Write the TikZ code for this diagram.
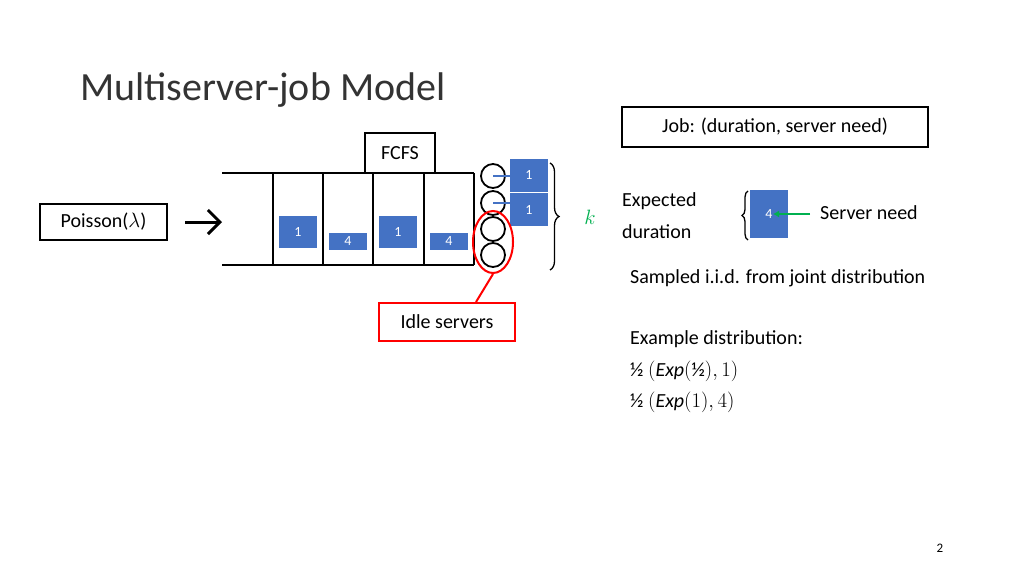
\documentclass[tikz,border=0pt]{standalone}
\usepackage{fontspec}
\setmainfont{Carlito}
\usetikzlibrary{decorations.pathreplacing,arrows.meta,shapes.geometric}
\begin{document}
\begin{tikzpicture}[x=1pt,y=-1pt,
  bx/.style={draw=black,line width=1.8pt,inner sep=0pt},
  job/.style={fill=jobblue,draw=none,text=white,font=\fontsize{14}{14}\selectfont,inner sep=0pt},
  srv/.style={draw=black,line width=1.8pt,circle,minimum size=24pt,inner sep=0pt},
  txt/.style={font=\fontsize{20}{22}\selectfont,anchor=west,inner sep=0pt}]
\definecolor{jobblue}{RGB}{68,114,196}
\definecolor{kgreen}{RGB}{0,176,80}
\useasboundingbox (0,0) rectangle (1024,576);
\fill[white] (0,0) rectangle (1024,576);
\node[anchor=base west,inner sep=0pt,font=\fontsize{40}{40}\selectfont,text=black!80] (title) at (80,100) {Multiserver-job Model};
% job box
\node[bx,minimum width=306pt,minimum height=40pt,font=\fontsize{20}{22}\selectfont] (jobbox) at (775,127) {Job: (duration, server need)};
% queue
\node[bx,minimum width=70pt,minimum height=40pt,font=\fontsize{20}{22}\selectfont] (fcfs) at (400,153) {FCFS};
\coordinate (qtl) at (222,173); \coordinate (qtr) at (474,173);
\coordinate (qbl) at (222,265); \coordinate (qbr) at (474,265);
\draw[line width=1.8pt] (qtl) -- (qtr) (qbl) -- (qbr);
\foreach \x in {273,323,373,424,474} \draw[line width=1.8pt] (\x,173) -- (\x,265);
\node[job,minimum width=38pt,minimum height=32pt] (j1) at (298,232) {1};
\node[job,minimum width=38pt,minimum height=17pt] (j2) at (348,241) {4};
\node[job,minimum width=38pt,minimum height=32pt] (j3) at (398,232) {1};
\node[job,minimum width=38pt,minimum height=17pt] (j4) at (449,241) {4};
% servers
\node[srv] (s1) at (493,176) {};
\node[srv] (s2) at (493,203) {};
\node[srv] (s3) at (493,229) {};
\node[srv] (s4) at (493,255) {};
\node[job,minimum width=38pt,minimum height=33pt] (r1) at (529,175) {1};
\node[job,minimum width=38pt,minimum height=33pt] (r2) at (529,209.5) {1};
\draw[white,line width=0.8pt] (510,192.5) -- (548,192.5);
\draw[jobblue,line width=1.5pt] (s1.center) -- (r1.west|-s1.center);
\draw[jobblue,line width=1.5pt] (s2.center) -- (r2.west|-s2.center);
\draw[line width=1.3pt,decorate,decoration={brace,amplitude=9pt}] (550,163) -- (550,270);
\node[font=\fontsize{22}{22}\selectfont,text=kgreen] (k) at (590,217) {$k$};
% idle
\node[draw=red,line width=2pt,ellipse,minimum width=40pt,minimum height=62pt] (idle) at (493,242) {};
\node[draw=red,line width=2pt,minimum width=136pt,minimum height=38pt,font=\fontsize{20}{22}\selectfont,inner sep=0pt] (idleb) at (447,322) {Idle servers};
\draw[red,line width=2pt] (idle.south) -- ([xshift=29pt]idleb.north);
% arrivals
\node[draw=black,line width=1.3pt,minimum width=127pt,minimum height=36pt,font=\fontsize{20}{22}\selectfont,inner sep=0pt] (pois) at (103.5,222) {Poisson($\lambda$)};
\coordinate (arrin) at (185,222);
\draw[line width=3pt,-{Straight Barb[length=12pt,width=24pt,line width=3pt]}] (arrin) -- (qbl|-arrin);
% job description
\node[txt] (exp1) at (622,201) {Expected};
\node[txt] (exp2) at (622,232) {duration};
\node[job,minimum width=38pt,minimum height=48pt] (jd) at (769,214) {4};
\draw[line width=1.3pt,decorate,decoration={brace,amplitude=6pt}] (748,240) -- (748,191);
\node[txt] (sn) at (820,213) {Server need};
\coordinate (snt) at (810,214);
\draw[kgreen,line width=2.5pt,-{Latex[length=6pt,width=7pt]}] (snt) -- ([xshift=4pt]jd.center);
\node[txt] (samp) at (630,278) {Sampled i.i.d. from joint distribution};
\node[txt] (ex) at (630,339) {Example distribution:};
\node[txt] (ex1) at (630,371) {½ $(\mathit{Exp}(\mbox{½}),1)$};
\node[txt] (ex2) at (630,402) {½ $(\mathit{Exp}(1),4)$};
\node[font=\fontsize{13}{13}\selectfont] (pg) at (940,548) {2};
\end{tikzpicture}
\end{document}
